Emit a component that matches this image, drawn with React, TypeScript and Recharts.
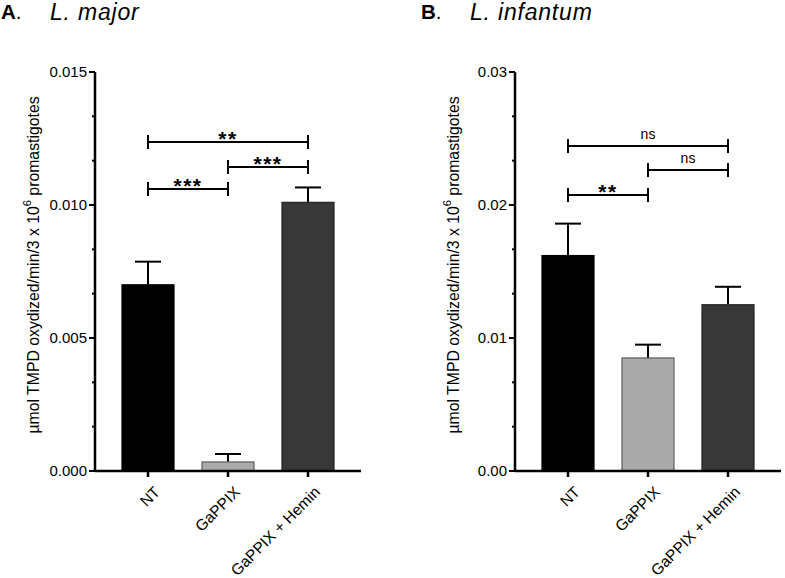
import React from "react";
import { BarChart, Bar, XAxis, YAxis, ReferenceLine } from "recharts";

const categories = ["NT", "GaPPIX", "GaPPIX + Hemin"];

const majorValues = [0.007, 0.00034, 0.0101];
const majorErrors = [0.00087, 0.0003, 0.00056];

const infantumValues = [0.0162, 0.0085, 0.0125];
const infantumErrors = [0.0024, 0.001, 0.00135];

const barFills = ["#000000", "#aaaaaa", "#383838"];
const barStrokes = ["#000000", "#5e5e5e", "#222222"];

const majorTicks = [0, 0.001667, 0.003333, 0.005, 0.006667, 0.008333, 0.01, 0.011667, 0.013333, 0.015];
const majorTickLabels = ["0.000", "", "", "0.005", "", "", "0.010", "", "", "0.015"];

const infantumTicks = [0, 0.003333, 0.006667, 0.01, 0.013333, 0.016667, 0.02, 0.023333, 0.026667, 0.03];
const infantumTickLabels = ["0.00", "", "", "0.01", "", "", "0.02", "", "", "0.03"];

const majorBrackets = [
  { from: "NT", to: "GaPPIX + Hemin", y: 0.01237, label: "**" },
  { from: "GaPPIX", to: "GaPPIX + Hemin", y: 0.01143, label: "***" },
  { from: "NT", to: "GaPPIX", y: 0.0106, label: "***" },
];
const infantumBrackets = [
  { from: "NT", to: "GaPPIX + Hemin", y: 0.02444, label: "ns" },
  { from: "GaPPIX", to: "GaPPIX + Hemin", y: 0.02263, label: "ns" },
  { from: "NT", to: "GaPPIX", y: 0.02075, label: "**" },
];

const FONT = "'Liberation Sans', Arial, sans-serif";

function makeYTick(labels: string[]) {
  return (props: any) => {
    const { x, y, index } = props;
    const lab = labels[index];
    const major = lab !== "" && lab !== undefined;
    return (
      <g>
        <line x1={x - (major ? 6 : 3)} x2={x} y1={y} y2={y} stroke="#000" strokeWidth={2} />
        {major && (
          <text x={x - 8} y={y} dy={5} textAnchor="end" fontSize={15} fill="#000" fontFamily={FONT}>
            {lab}
          </text>
        )}
      </g>
    );
  };
}

function XTick(props: any) {
  const { x, y, payload } = props;
  return (
    <g transform={`translate(${x},${y})`}>
      <line x1={0} y1={0} x2={0} y2={6} stroke="#000" strokeWidth={2.5} />
      <text
        x={13}
        y={22}
        textAnchor="end"
        transform="rotate(-45 13 22)"
        fontSize={15.5}
        fill="#000"
        fontFamily={FONT}
      >
        {payload.value}
      </text>
    </g>
  );
}

// bar plus an upward-only error whisker, scaled from the bar's own pixel height
function makeBarShape(errors: number[]) {
  return (props: any) => {
    const { x, y, width, height, index, payload } = props;
    const perUnit = payload.value ? height / payload.value : 0;
    const errPx = errors[index] * perUnit;
    const cx = x + width / 2;
    return (
      <g>
        <line x1={cx} x2={cx} y1={y} y2={y - errPx} stroke="#000" strokeWidth={2} />
        <line x1={cx - 13} x2={cx + 13} y1={y - errPx} y2={y - errPx} stroke="#000" strokeWidth={2} />
        <rect
          x={x}
          y={y}
          width={width}
          height={height}
          fill={barFills[index]}
          stroke={barStrokes[index]}
          strokeWidth={1.2}
        />
      </g>
    );
  };
}

function bracketShape(text: string) {
  return (props: any) => {
    const { x1, y1, x2 } = props;
    const isStar = text.includes("*");
    return (
      <g>
        <line x1={x1} y1={y1} x2={x2} y2={y1} stroke="#000" strokeWidth={2} />
        <line x1={x1} y1={y1 - 7} x2={x1} y2={y1 + 7} stroke="#000" strokeWidth={2} />
        <line x1={x2} y1={y1 - 7} x2={x2} y2={y1 + 7} stroke="#000" strokeWidth={2} />
        <text
          x={(x1 + x2) / 2}
          y={isStar ? y1 + 4 : y1 - 7}
          textAnchor="middle"
          fontSize={isStar ? 21 : 14}
          fontWeight={isStar ? "bold" : "normal"}
          letterSpacing={isStar ? 1.5 : 0}
          fill="#000"
          fontFamily={FONT}
        >
          {text}
        </text>
      </g>
    );
  };
}

interface PanelProps {
  left: number;
  letter: string;
  species: string;
  values: number[];
  errors: number[];
  ticks: number[];
  tickLabels: string[];
  brackets: { from: string; to: string; y: number; label: string }[];
}

function Panel({ left, letter, species, values, errors, ticks, tickLabels, brackets }: PanelProps) {
  const data = categories.map((name, i) => ({ name, value: values[i] }));
  const max = ticks[ticks.length - 1];

  return (
    <div style={{ position: "absolute", left, top: 0, width: 365, height: 578 }}>
      <BarChart width={365} height={578} data={data} margin={{ top: 72, right: 4, bottom: 17, left: 0 }}>
        <XAxis
          dataKey="name"
          height={90}
          padding={{ left: 13, right: 13 }}
          axisLine={{ stroke: "#000", strokeWidth: 2.5 }}
          tickLine={false}
          tickSize={0}
          tickMargin={0}
          interval={0}
          tick={<XTick />}
        />
        <YAxis
          width={95}
          domain={[0, max]}
          ticks={ticks}
          interval={0}
          axisLine={{ stroke: "#000", strokeWidth: 2.5 }}
          tickLine={false}
          tickSize={0}
          tickMargin={0}
          tick={makeYTick(tickLabels)}
        />
        <Bar dataKey="value" barSize={52} isAnimationActive={false} shape={makeBarShape(errors)} />
        {brackets.map((b, i) => (
          <ReferenceLine
            key={i}
            segment={[
              { x: b.from, y: b.y },
              { x: b.to, y: b.y },
            ]}
            shape={bracketShape(b.label)}
          />
        ))}
      </BarChart>
      <svg
        width={365}
        height={578}
        style={{ position: "absolute", left: 0, top: 0, pointerEvents: "none" }}
        fontFamily={FONT}
      >
        <text x={1} y={19} fontSize={20.5} fill="#000">
          <tspan fontWeight="bold">{letter}</tspan>
          <tspan>.</tspan>
        </text>
        <text x={50} y={19.5} fontSize={23} fontStyle="italic" letterSpacing={0.8} fill="#000">
          {species}
        </text>
        <text x={38.5} y={265} transform="rotate(-90 38.5 265)" textAnchor="middle" fontSize={15.8} fill="#000">
          µmol TMPD oxydized/min/3 x 10
          <tspan fontSize={11} dy={-8}>6</tspan>
          <tspan dy={8}> promastigotes</tspan>
        </text>
      </svg>
    </div>
  );
}

export default function App() {
  return (
    <div style={{ position: "absolute", left: 0, top: 0, width: 785, height: 578, background: "#fff", fontFamily: FONT }}>
      <Panel
        left={0}
        letter="A"
        species="L. major"
        values={majorValues}
        errors={majorErrors}
        ticks={majorTicks}
        tickLabels={majorTickLabels}
        brackets={majorBrackets}
      />
      <Panel
        left={420}
        letter="B"
        species="L. infantum"
        values={infantumValues}
        errors={infantumErrors}
        ticks={infantumTicks}
        tickLabels={infantumTickLabels}
        brackets={infantumBrackets}
      />
    </div>
  );
}
